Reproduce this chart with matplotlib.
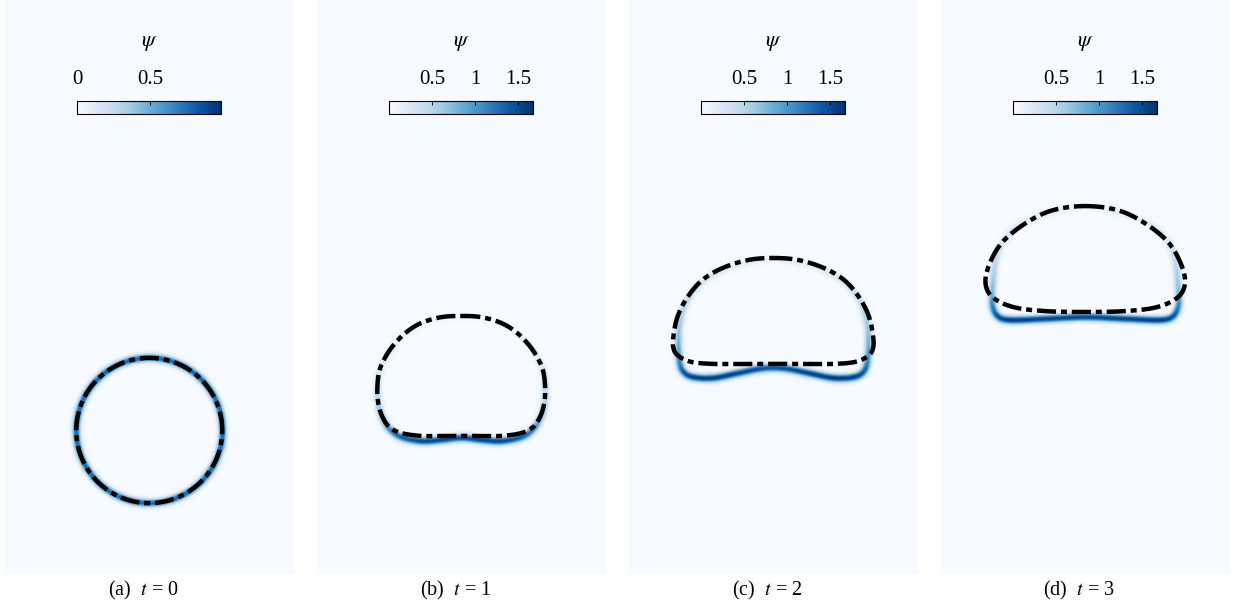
import numpy as np
import matplotlib
matplotlib.use("Agg")
import matplotlib.pyplot as plt
from matplotlib.colors import Normalize
from matplotlib.ticker import FixedFormatter

plt.rcParams["font.family"] = ["Liberation Serif", "DejaVu Serif"]
plt.rcParams["mathtext.fontset"] = "stix"

# Domain of each snapshot: x in [0, 1], y in [0, 2]
XMAX, YMAX = 1.0, 2.0
XC = 0.5

captions = ["(a)  $t$ = 0", "(b)  $t$ = 1", "(c)  $t$ = 2", "(d)  $t$ = 3"]
cbar_max = [0.99, 1.68, 1.68, 1.68]
cbar_ticks = [[0, 0.5], [0.5, 1, 1.5], [0.5, 1, 1.5], [0.5, 1, 1.5]]
cbar_ticklabels = [["0", "0.5"], ["0.5", "1", "1.5"], ["0.5", "1", "1.5"], ["0.5", "1", "1.5"]]

# t = 0: circular bubble
circle_center = (0.5, 0.5)
circle_radius = 0.253
circle_psi = 0.8

# Half profiles (right half, from top to bottom): x offset from the axis, height.
# Dash-dot reference interface
ref_b_dx = [0, .069, .138, .190, .232, .263, .284, .291, .287, .273, .249, .208, .138, .069, 0]
ref_b_y = [.899, .895, .875, .843, .801, .756, .707, .645, .592, .547, .512, .491, .481, .481, .481]
ref_c_dx = [0, .087, .176, .246, .297, .331, .346, .346, .329, .284, .208, .104, 0]
ref_c_y = [1.101, 1.094, 1.066, 1.024, .965, .899, .829, .787, .760, .739, .732, .732, .732]
ref_d_dx = [0, .111, .201, .284, .329, .346, .322, .249, .138, 0]
ref_d_y = [1.282, 1.268, 1.226, 1.160, 1.087, 1.017, .965, .930, .916, .913]

# Interface carrying the surfactant field psi
psi_b_dx = [0, .069, .138, .190, .232, .263, .284, .291, .287, .273, .249, .208, .138, .069, 0]
psi_b_y = [.895, .892, .871, .840, .798, .753, .704, .641, .589, .544, .505, .477, .463, .467, .474]
psi_b_val = [0.08, 0.08, 0.09, 0.11, 0.15, 0.22, 0.30, 0.42, 0.60, 0.85, 1.15, 1.40, 1.55, 1.55, 1.50]
psi_c_dx = [0, .090, .173, .249, .301, .325, .329, .325, .311, .277, .208, .121, .052, 0]
psi_c_y = [1.098, 1.084, 1.059, 1.014, .948, .868, .798, .739, .704, .686, .683, .700, .714, .718]
psi_c_val = [0.15, 0.17, 0.22, 0.30, 0.45, 0.62, 0.85, 1.15, 1.45, 1.62, 1.65, 1.58, 1.50, 1.45]
psi_d_dx = [0, .121, .225, .284, .311, .322, .322, .304, .260, .138, 0]
psi_d_y = [1.279, 1.256, 1.218, 1.160, 1.090, .990, .937, .899, .885, .889, .895]
psi_d_val = [0.12, 0.15, 0.20, 0.30, 0.45, 0.75, 1.15, 1.50, 1.65, 1.60, 1.55]


def closed_loop(dx, y, val=None):
    dx = np.asarray(dx, float)
    y = np.asarray(y, float)
    xs = np.concatenate([XC + dx, XC - dx[::-1][1:-1]])
    ys = np.concatenate([y, y[::-1][1:-1]])
    if val is None:
        return xs, ys, None
    v = np.asarray(val, float)
    vs = np.concatenate([v, v[::-1][1:-1]])
    return xs, ys, vs


def smooth_closed(xs, ys, vs=None, n=30):
    """Periodic Catmull-Rom curve through the given control points."""
    P = np.column_stack([xs, ys])
    N = len(P)
    t = np.linspace(0, 1, n, endpoint=False)[:, None]
    out, vout = [], []
    for i in range(N):
        p0, p1, p2, p3 = P[(i - 1) % N], P[i], P[(i + 1) % N], P[(i + 2) % N]
        seg = 0.5 * ((2 * p1) + (-p0 + p2) * t + (2 * p0 - 5 * p1 + 4 * p2 - p3) * t ** 2
                     + (-p0 + 3 * p1 - 3 * p2 + p3) * t ** 3)
        out.append(seg)
        if vs is not None:
            vout.append(vs[i] + (vs[(i + 1) % N] - vs[i]) * t[:, 0])
    C = np.vstack(out)
    C = np.vstack([C, C[:1]])
    V = None
    if vs is not None:
        V = np.concatenate(vout)
        V = np.concatenate([V, V[:1]])
    return C[:, 0], C[:, 1], V


def psi_field(cx, cy, cv, nx=578, ny=1148, sigma=0.0095):
    gx = (np.arange(nx) + 0.5) / nx * XMAX
    gy = (np.arange(ny) + 0.5) / ny * YMAX
    F = np.zeros((ny, nx))
    m = 5 * sigma
    ix = np.where((gx > cx.min() - m) & (gx < cx.max() + m))[0]
    iy = np.where((gy > cy.min() - m) & (gy < cy.max() + m))[0]
    GX, GY = np.meshgrid(gx[ix], gy[iy])
    px, py = GX.ravel(), GY.ravel()
    res = np.empty(px.size)
    step = 4000
    for s in range(0, px.size, step):
        d2 = (px[s:s + step, None] - cx[None, :]) ** 2 + (py[s:s + step, None] - cy[None, :]) ** 2
        res[s:s + step] = np.max(cv[None, :] * np.exp(-d2 / (2 * sigma ** 2)), axis=1)
    F[np.ix_(iy, ix)] = res.reshape(len(iy), len(ix))
    return F


# Build curves for every snapshot
theta = np.linspace(0, 2 * np.pi, 800)
circ_x = circle_center[0] + circle_radius * np.cos(theta)
circ_y = circle_center[1] + circle_radius * np.sin(theta)
circ_v = np.full_like(theta, circle_psi)

ref_curves = [(circ_x, circ_y)]
psi_curves = [(circ_x, circ_y, circ_v)]
for rdx, ry, pdx, py_, pv in [
    (ref_b_dx, ref_b_y, psi_b_dx, psi_b_y, psi_b_val),
    (ref_c_dx, ref_c_y, psi_c_dx, psi_c_y, psi_c_val),
    (ref_d_dx, ref_d_y, psi_d_dx, psi_d_y, psi_d_val),
]:
    x, y, _ = closed_loop(rdx, ry)
    sx, sy, _ = smooth_closed(x, y)
    ref_curves.append((sx, sy))
    x, y, v = closed_loop(pdx, py_, pv)
    sx, sy, sv = smooth_closed(x, y, v)
    psi_curves.append((sx, sy, sv))

W, H = 1235, 603
fig = plt.figure(figsize=(W / 100, H / 100), dpi=100)
fig.patch.set_facecolor("white")

lefts = [5, 317, 629, 941]
pw, ph, pb = 288.5, 574, 29

for k in range(4):
    ax = fig.add_axes([lefts[k] / W, pb / H, pw / W, ph / H])
    cx, cy, cv = psi_curves[k]
    F = psi_field(cx, cy, cv)
    norm = Normalize(vmin=0, vmax=cbar_max[k])
    im = ax.imshow(F, extent=[0, XMAX, 0, YMAX], origin="lower", cmap="Blues",
                   norm=norm, aspect="auto", interpolation="bilinear")
    rx, ry = ref_curves[k]
    ax.plot(rx, ry, color="black", lw=3.2, dashes=(4.3, 1.1, 1.35, 1.1),
            dash_capstyle="butt", solid_capstyle="butt")
    ax.set_xlim(0, XMAX)
    ax.set_ylim(0, YMAX)
    ax.axis("off")

    cax = ax.inset_axes([0.25, 0.801, 0.5, 0.0226])
    cb = fig.colorbar(im, cax=cax, orientation="horizontal", ticks=cbar_ticks[k])
    cb.ax.xaxis.set_major_formatter(FixedFormatter(cbar_ticklabels[k]))
    cb.ax.xaxis.set_ticks_position("top")
    cb.ax.xaxis.set_label_position("top")
    cb.ax.tick_params(axis="x", direction="in", length=3, width=0.6, pad=9,
                      labelsize=15, colors="black")
    cb.outline.set_linewidth(0.8)
    cb.outline.set_edgecolor("black")
    ax.text(0.5, 0.925, r"$\psi$", transform=ax.transAxes, ha="center", va="center",
            fontsize=16)

    fig.text((lefts[k] + pw / 2 - 6) / W, 1 - 590 / H, captions[k], ha="center",
             va="center", fontsize=14.5)

fig.savefig("out.png", dpi=100)
